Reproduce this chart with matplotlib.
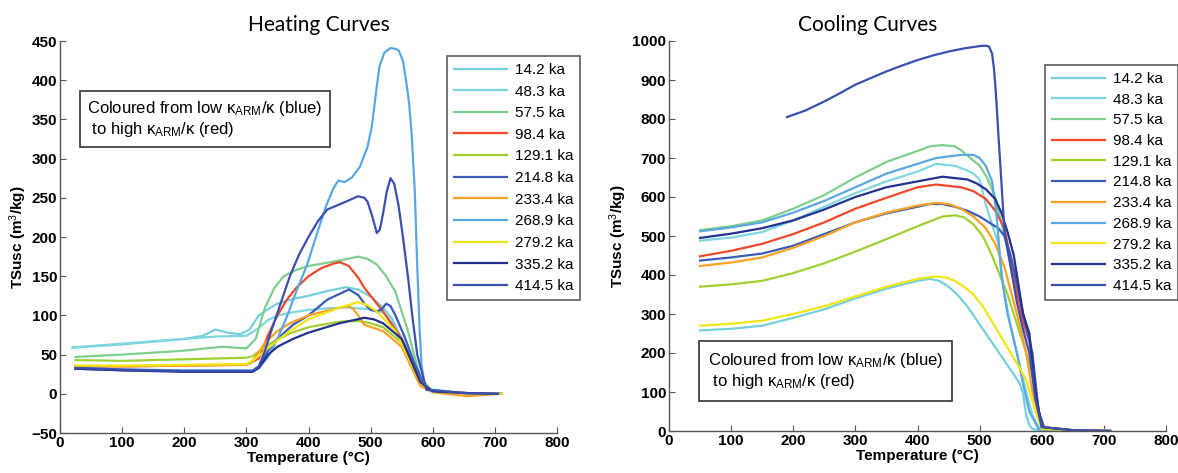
import numpy as np
import matplotlib
matplotlib.use("Agg")
import matplotlib.pyplot as plt

plt.rcParams['font.family'] = ['Liberation Sans', 'DejaVu Sans']
plt.rcParams['mathtext.fontset'] = 'custom'
plt.rcParams['mathtext.rm'] = 'Liberation Sans'
plt.rcParams['mathtext.it'] = 'Liberation Sans'

# Sample labels and colours (low -> high kARM/k colouring)
labels = ["14.2 ka", "48.3 ka", "57.5 ka", "98.4 ka", "129.1 ka", "214.8 ka",
          "233.4 ka", "268.9 ka", "279.2 ka", "335.2 ka", "414.5 ka"]
colors = ["#74d0dc", "#7ed6e2", "#7ccf8c", "#f0482a", "#9fd032", "#3a5cb8",
          "#f9a222", "#5aa8e2", "#f0e614", "#23318f", "#3b4fb0"]

# Heating curves: temperature (°C) and susceptibility values
heat_T = {
    "14.2 ka":  [20, 100, 200, 230, 250, 270, 290, 305, 320, 335, 350, 375, 400, 430, 460, 480, 500, 520, 535, 550, 565, 580, 600, 650, 710],
    "48.3 ka":  [20, 100, 200, 250, 300, 320, 335, 350, 375, 400, 430, 460, 500, 520, 530, 545, 560, 575, 585, 600, 650, 710],
    "57.5 ka":  [25, 100, 200, 260, 300, 315, 330, 345, 360, 380, 400, 450, 480, 495, 510, 525, 540, 560, 580, 600, 650, 710],
    "98.4 ka":  [25, 100, 200, 300, 320, 335, 350, 365, 380, 400, 420, 440, 450, 465, 480, 490, 520, 550, 580, 600, 650, 710],
    "129.1 ka": [25, 100, 200, 300, 310, 325, 340, 370, 400, 450, 480, 500, 520, 550, 580, 600, 650, 710],
    "214.8 ka": [25, 100, 200, 310, 320, 335, 350, 375, 400, 430, 465, 480, 490, 500, 510, 518, 525, 532, 540, 555, 570, 590, 650, 710],
    "233.4 ka": [25, 100, 200, 300, 310, 330, 350, 370, 400, 440, 465, 472, 480, 490, 520, 550, 580, 600, 655, 710],
    "268.9 ka": [25, 100, 200, 310, 320, 335, 350, 366, 380, 397, 412, 428, 440, 448, 458, 470, 483, 495, 502, 508, 514, 522, 532, 540, 545, 552, 557, 562, 566, 571, 575, 579, 582, 587, 591, 650, 710],
    "279.2 ka": [25, 100, 200, 300, 310, 330, 350, 370, 400, 450, 480, 495, 510, 540, 580, 600, 650, 710],
    "335.2 ka": [25, 100, 200, 310, 320, 335, 350, 375, 400, 450, 490, 505, 520, 550, 580, 600, 650, 705],
    "414.5 ka": [25, 100, 200, 310, 320, 330, 340, 355, 370, 385, 400, 415, 430, 460, 480, 490, 495, 502, 510, 515, 520, 526, 532, 538, 545, 552, 560, 567, 575, 590, 650, 705],
}
heat_V = {
    "14.2 ka":  [59, 63, 70, 74, 82, 78, 76, 82, 100, 108, 115, 121, 125, 131, 136, 133, 124, 110, 95, 70, 45, 15, 3, 1, 0],
    "48.3 ka":  [59, 64, 70, 73, 74, 84, 94, 100, 104, 107, 109, 110, 108, 104, 95, 78, 55, 28, 10, 3, 1, 0],
    "57.5 ka":  [47, 50, 55, 60, 58, 70, 110, 135, 150, 158, 163, 170, 175, 172, 165, 150, 130, 80, 20, 3, 1, 0],
    "98.4 ka":  [35, 35, 36, 37, 45, 75, 100, 120, 135, 150, 160, 166, 168, 163, 148, 135, 105, 70, 15, 3, 1, 0],
    "129.1 ka": [43, 42, 44, 46, 48, 57, 65, 77, 85, 92, 93, 90, 85, 65, 15, 3, 1, 0],
    "214.8 ka": [32, 30, 29, 29, 35, 55, 70, 88, 100, 120, 133, 126, 115, 107, 105, 108, 115, 112, 100, 72, 40, 5, 1, 0],
    "233.4 ka": [35, 35, 36, 37, 42, 65, 80, 90, 100, 108, 112, 108, 100, 88, 80, 60, 10, 2, -3, 0],
    "268.9 ka": [33, 31, 30, 30, 33, 47, 70, 100, 130, 163, 200, 239, 262, 272, 270, 276, 290, 315, 341, 380, 417, 435, 441, 440, 438, 425, 400, 370, 332, 260, 163, 80, 36, 12, 6, 1, 0],
    "279.2 ka": [36, 36, 37, 38, 42, 55, 68, 80, 95, 110, 117, 113, 105, 80, 15, 3, 1, 0],
    "335.2 ka": [32, 30, 28, 28, 33, 50, 60, 70, 78, 90, 97, 95, 90, 70, 15, 3, 1, 0],
    "414.5 ka": [33, 31, 29, 29, 35, 55, 80, 115, 150, 178, 200, 220, 235, 245, 252, 250, 245, 228, 205, 210, 230, 258, 275, 268, 240, 200, 150, 100, 50, 5, 1, 0],
}

# Cooling curves
cool_T = {
    "14.2 ka":  [50, 100, 150, 200, 250, 300, 350, 400, 420, 435, 450, 465, 480, 495, 510, 525, 540, 555, 565, 570, 575, 580, 585, 600, 650, 710],
    "48.3 ka":  [50, 100, 150, 200, 250, 300, 350, 400, 430, 460, 480, 490, 500, 510, 520, 530, 540, 550, 560, 575, 585, 595, 650, 710],
    "57.5 ka":  [50, 100, 150, 200, 250, 300, 350, 400, 420, 440, 460, 470, 485, 500, 512, 525, 540, 560, 570, 580, 590, 600, 650, 710],
    "98.4 ka":  [50, 100, 150, 200, 250, 300, 350, 400, 430, 470, 490, 510, 525, 540, 555, 565, 570, 580, 585, 590, 600, 650, 710],
    "129.1 ka": [50, 100, 150, 200, 250, 300, 350, 400, 440, 460, 475, 490, 505, 520, 535, 545, 565, 585, 595, 605, 650, 710],
    "214.8 ka": [50, 100, 150, 200, 250, 300, 350, 400, 420, 440, 460, 480, 500, 520, 530, 540, 550, 560, 570, 585, 595, 605, 650, 710],
    "233.4 ka": [50, 100, 150, 200, 250, 300, 350, 400, 430, 450, 470, 490, 510, 525, 540, 550, 560, 575, 585, 600, 650, 710],
    "268.9 ka": [50, 100, 150, 200, 250, 300, 350, 380, 430, 470, 490, 500, 510, 520, 527, 535, 545, 560, 570, 580, 595, 650, 710],
    "279.2 ka": [50, 100, 150, 200, 250, 300, 350, 400, 430, 445, 460, 475, 490, 505, 520, 535, 550, 565, 575, 590, 600, 650, 710],
    "335.2 ka": [50, 100, 150, 200, 250, 300, 350, 400, 440, 480, 495, 510, 525, 535, 545, 555, 570, 580, 590, 600, 650, 710],
    "414.5 ka": [190, 220, 250, 275, 300, 325, 350, 375, 400, 425, 450, 475, 500, 510, 515, 520, 523, 525, 528, 530, 535, 540, 550, 560, 570, 580, 590, 600, 650, 705],
}
cool_V = {
    "14.2 ka":  [258, 262, 270, 290, 312, 340, 365, 385, 390, 385, 370, 348, 320, 285, 250, 215, 180, 145, 120, 95, 40, 15, 5, 2, 1, 0],
    "48.3 ka":  [488, 496, 510, 540, 575, 610, 640, 665, 685, 680, 668, 660, 645, 580, 530, 480, 350, 270, 200, 100, 40, 10, 2, 0],
    "57.5 ka":  [515, 525, 540, 570, 605, 650, 690, 718, 730, 733, 730, 720, 700, 680, 650, 600, 500, 350, 300, 250, 100, 10, 2, 0],
    "98.4 ka":  [448, 462, 480, 505, 535, 570, 598, 625, 632, 625, 615, 595, 565, 520, 400, 320, 280, 230, 180, 100, 10, 2, 0],
    "129.1 ka": [370, 376, 385, 405, 430, 460, 492, 525, 550, 553, 548, 530, 500, 450, 390, 350, 250, 150, 30, 5, 2, 0],
    "214.8 ka": [437, 445, 455, 475, 505, 535, 558, 575, 582, 582, 575, 565, 550, 530, 520, 500, 450, 380, 300, 200, 50, 5, 2, 0],
    "233.4 ka": [423, 432, 445, 470, 500, 535, 560, 578, 585, 582, 570, 550, 520, 480, 420, 360, 300, 200, 100, 10, 2, 0],
    "268.9 ka": [512, 522, 535, 560, 590, 625, 660, 675, 700, 708, 708, 700, 680, 640, 560, 400, 300, 200, 120, 50, 5, 2, 0],
    "279.2 ka": [270, 275, 283, 300, 320, 345, 370, 390, 396, 394, 385, 370, 350, 320, 280, 240, 200, 160, 130, 50, 5, 2, 0],
    "335.2 ka": [495, 506, 520, 540, 568, 600, 625, 640, 652, 645, 635, 620, 595, 560, 510, 450, 300, 250, 100, 10, 2, 0],
    "414.5 ka": [805, 822, 845, 866, 888, 905, 922, 937, 951, 963, 973, 981, 987, 988, 986, 968, 930, 892, 820, 765, 640, 510, 420, 330, 260, 200, 80, 10, 2, 0],
}

note = ("Coloured from low $\\kappa_{\\rm ARM}$/$\\kappa$ (blue)\n"
        " to high $\\kappa_{\\rm ARM}$/$\\kappa$ (red)")

W, H = 1178, 473
fig = plt.figure(figsize=(W / 100, H / 100), dpi=100)


def style_axes(ax, ylim, yticks):
    ax.set_xlim(0, 800)
    ax.set_ylim(*ylim)
    ax.set_xticks(range(0, 801, 100))
    ax.set_yticks(yticks)
    for s in ["top", "right"]:
        ax.spines[s].set_visible(False)
    for s in ["left", "bottom"]:
        ax.spines[s].set_color("#555555")
        ax.spines[s].set_linewidth(1.0)
    ax.tick_params(direction="in", length=4, color="#555555", pad=2)
    for lab in ax.get_xticklabels() + ax.get_yticklabels():
        lab.set_fontweight("bold")
        lab.set_fontsize(11)
    ax.set_xlabel("Temperature (°C)", fontsize=11, fontweight="bold", labelpad=1)
    ax.set_ylabel("TSusc (m$^3$/kg)", fontsize=11, fontweight="bold", labelpad=2)


def draw(ax, Tdict, Vdict):
    for lab, col in zip(labels, colors):
        ax.plot(Tdict[lab], Vdict[lab], color=col, lw=1.6, label=lab)


def add_legend(ax, x, y, spacing):
    leg = ax.legend(loc="upper left", bbox_to_anchor=(x / W, 1 - y / H),
                    bbox_transform=fig.transFigure, fontsize=11, frameon=True,
                    fancybox=False, edgecolor="#333333", handlelength=3.5,
                    labelspacing=spacing, borderpad=0.45, handletextpad=0.5,
                    borderaxespad=0)
    leg.get_frame().set_linewidth(1.2)


# Heating panel
ax1 = fig.add_axes([60 / W, 1 - 433 / H, 497 / W, 392 / H])
draw(ax1, heat_T, heat_V)
style_axes(ax1, (-50, 450), range(-50, 451, 50))
add_legend(ax1, 447, 56, 0.5)
fig.text(87 / W, 1 - 119 / H, note, fontsize=12, va="center", ha="left",
         bbox=dict(boxstyle="square,pad=0.45", fc="white", ec="#333333", lw=1.2))
fig.text(319 / W, 1 - 25 / H, "Heating Curves", fontsize=15, family="Lato",
         ha="center", va="center")

# Cooling panel
ax2 = fig.add_axes([669 / W, 1 - 431 / H, 497 / W, 390 / H])
draw(ax2, cool_T, cool_V)
style_axes(ax2, (0, 1000), range(0, 1001, 100))
add_legend(ax2, 1045, 65, 0.44)
fig.text(708 / W, 1 - 371 / H, note, fontsize=12, va="center", ha="left",
         bbox=dict(boxstyle="square,pad=0.55", fc="white", ec="#333333", lw=1.2))
fig.text(868 / W, 1 - 25 / H, "Cooling Curves", fontsize=15, family="Lato",
         ha="center", va="center")

fig.savefig("out.png", dpi=100)
